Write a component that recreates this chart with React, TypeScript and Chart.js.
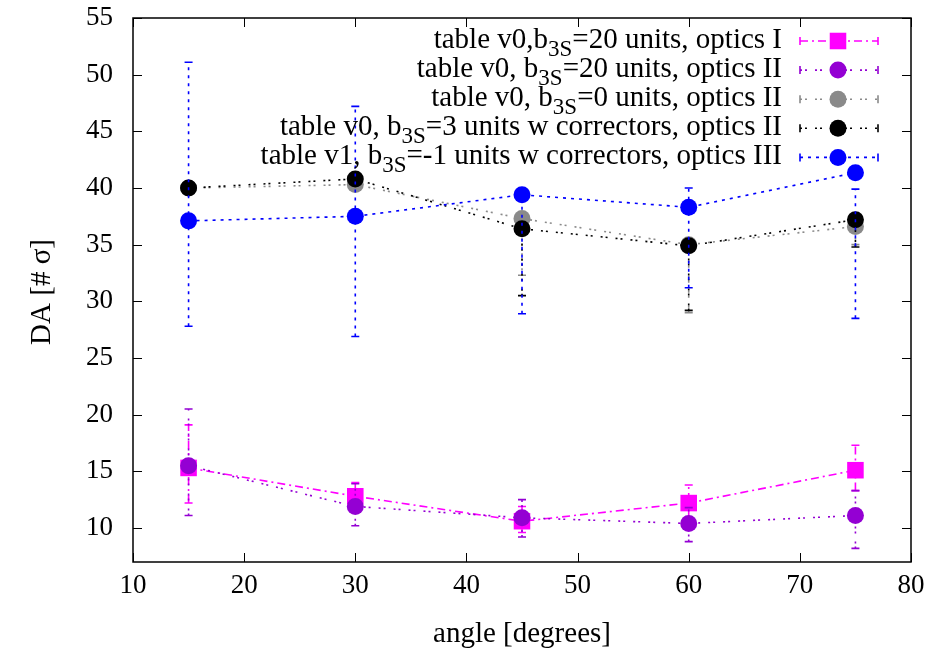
import React, { useEffect, useRef } from "react";
import { Chart, registerables } from "chart.js";

Chart.register(...registerables);

const ANGLES = [15, 30, 45, 60, 75];
const X_TICKS = [10, 20, 30, 40, 50, 60, 70, 80];
const Y_TICKS = [10, 15, 20, 25, 30, 35, 40, 45, 50, 55];

// table v0, b3S=20, optics I
const OPT1_VAL = [15.3, 12.8, 10.6, 12.2, 15.1];
const OPT1_LOW = [12.2, 11.8, 9.6, 10.8, 13.3];
const OPT1_HIGH = [19.1, 14.0, 11.9, 13.8, 17.3];

// table v0, b3S=20, optics II
const B20_VAL = [15.5, 11.9, 10.9, 10.4, 11.1];
const B20_LOW = [11.1, 10.2, 9.2, 8.8, 8.2];
const B20_HIGH = [20.5, 13.9, 12.5, 11.8, 13.3];

// table v0, b3S=0, optics II
const B0_VAL = [40.0, 40.3, 37.3, 35.0, 36.6];
const B0_LOW = [39.7, 40.0, 32.3, 29.0, 35.0];
const B0_HIGH = [40.3, 40.6, 37.6, 35.3, 36.9];

// table v0, b3S=3 w correctors, optics II
const B3_VAL = [40.0, 40.8, 36.4, 34.9, 37.2];
const B3_LOW = [39.7, 40.5, 30.5, 29.2, 34.8];
const B3_HIGH = [40.3, 41.1, 36.7, 35.2, 37.5];

// table v1, b3S=-1 w correctors, optics III
const V1_VAL = [37.1, 37.5, 39.4, 38.3, 41.35];
const V1_LOW = [27.8, 26.9, 28.9, 31.2, 28.5];
const V1_HIGH = [51.1, 47.2, 39.7, 40.0, 39.9];

const LEGEND_PARTS: [string, string, string][] = [
  ["table v0,b", "3S", "=20 units, optics I"],
  ["table v0, b", "3S", "=20 units, optics II"],
  ["table v0, b", "3S", "=0 units, optics II"],
  ["table v0, b", "3S", "=3 units w correctors, optics II"],
  ["table v1, b", "3S", "=-1 units w correctors, optics III"],
];

const VALUES = [OPT1_VAL, B20_VAL, B0_VAL, B3_VAL, V1_VAL];
const LOWS = [OPT1_LOW, B20_LOW, B0_LOW, B3_LOW, V1_LOW];
const HIGHS = [OPT1_HIGH, B20_HIGH, B0_HIGH, B3_HIGH, V1_HIGH];

const COLORS = ["#ff00ff", "#9400d3", "#8a8a8a", "#000000", "#0000ff"];
const DASHES = [[8, 4, 2, 4], [2, 3, 2, 8], [2, 3, 2, 8], [2, 3, 2, 8], [3, 5]];
const STYLES = ["rect", "circle", "circle", "circle", "circle"];
const RADII = [11.7, 8.5, 8.5, 8.5, 8.5];

const FONT = "'Liberation Serif', 'DejaVu Serif', serif";

const errPlugin = {
  id: "errbars",
  beforeDatasetDraw(chart: any, args: any) {
    const i = args.index;
    const ctx = chart.ctx;
    const xs = chart.scales.x;
    const ys = chart.scales.y;
    ctx.save();
    ctx.strokeStyle = COLORS[i];
    ctx.lineWidth = 1.6;
    for (let k = 0; k < ANGLES.length; k++) {
      const px = xs.getPixelForValue(ANGLES[k]);
      const pl = ys.getPixelForValue(LOWS[i][k]);
      const ph = ys.getPixelForValue(HIGHS[i][k]);
      ctx.setLineDash(DASHES[i]);
      ctx.beginPath();
      ctx.moveTo(px, pl);
      ctx.lineTo(px, ph);
      ctx.stroke();
      ctx.setLineDash([]);
      ctx.beginPath();
      ctx.moveTo(px - 4, pl);
      ctx.lineTo(px + 4, pl);
      ctx.moveTo(px - 4, ph);
      ctx.lineTo(px + 4, ph);
      ctx.stroke();
    }
    ctx.restore();
  },
};

const framePlugin = {
  id: "frame",
  beforeDatasetsDraw(chart: any) {
    const ctx = chart.ctx;
    const a = chart.chartArea;
    const xs = chart.scales.x;
    const ys = chart.scales.y;
    ctx.save();
    ctx.strokeStyle = "#000";
    ctx.lineWidth = 1.5;
    ctx.strokeRect(a.left, a.top, a.right - a.left, a.bottom - a.top);
    ctx.lineWidth = 1;
    const L = 9;
    ctx.beginPath();
    for (const v of X_TICKS) {
      const p = Math.round(xs.getPixelForValue(v)) + 0.5;
      ctx.moveTo(p, a.bottom);
      ctx.lineTo(p, a.bottom - L);
      ctx.moveTo(p, a.top);
      ctx.lineTo(p, a.top + L);
    }
    for (const v of Y_TICKS) {
      const p = Math.round(ys.getPixelForValue(v)) + 0.5;
      ctx.moveTo(a.left, p);
      ctx.lineTo(a.left + L, p);
      ctx.moveTo(a.right, p);
      ctx.lineTo(a.right - L, p);
    }
    ctx.stroke();

    // axis titles
    ctx.fillStyle = "#000";
    ctx.font = `29px ${FONT}`;
    ctx.textAlign = "center";
    ctx.textBaseline = "alphabetic";
    ctx.fillText("angle [degrees]", (a.left + a.right) / 2, 642);
    ctx.translate(50, 292);
    ctx.rotate(-Math.PI / 2);
    ctx.fillText("DA [# σ]", 0, 0);
    ctx.restore();
  },
};

const legendPlugin = {
  id: "richLegend",
  afterDatasetsDraw(chart: any) {
    const ctx = chart.ctx;
    ctx.save();
    const mainFont = `29px ${FONT}`;
    const subFont = `23px ${FONT}`;
    const right = 782;
    const x0 = 800;
    const x1 = 878;
    const mx = 838;
    for (let i = 0; i < LEGEND_PARTS.length; i++) {
      const base = 48 + i * 29.1;
      const [a, s, b] = LEGEND_PARTS[i];
      ctx.font = mainFont;
      const wa = ctx.measureText(a).width;
      const wb = ctx.measureText(b).width;
      ctx.font = subFont;
      const ws = ctx.measureText(s).width;
      let x = right - (wa + ws + wb);
      ctx.fillStyle = "#000";
      ctx.textAlign = "left";
      ctx.textBaseline = "alphabetic";
      ctx.font = mainFont;
      ctx.fillText(a, x, base);
      x += wa;
      ctx.font = subFont;
      ctx.fillText(s, x, base + 8);
      x += ws;
      ctx.font = mainFont;
      ctx.fillText(b, x, base);

      const cy = base - 7;
      ctx.strokeStyle = COLORS[i];
      ctx.lineWidth = 1.6;
      ctx.setLineDash(DASHES[i]);
      ctx.beginPath();
      ctx.moveTo(x0, cy);
      ctx.lineTo(x1, cy);
      ctx.stroke();
      ctx.setLineDash([]);
      ctx.beginPath();
      ctx.moveTo(x0, cy - 4);
      ctx.lineTo(x0, cy + 4);
      ctx.moveTo(x1, cy - 4);
      ctx.lineTo(x1, cy + 4);
      ctx.stroke();
      ctx.fillStyle = COLORS[i];
      ctx.beginPath();
      if (STYLES[i] === "rect") {
        const h = RADII[i] * Math.SQRT1_2;
        ctx.rect(mx - h, cy - h, 2 * h, 2 * h);
      } else {
        ctx.arc(mx, cy, RADII[i], 0, Math.PI * 2);
      }
      ctx.fill();
    }
    ctx.restore();
  },
};

export default function App() {
  const ref = useRef<HTMLCanvasElement>(null);
  useEffect(() => {
    if (!ref.current) return;
    const datasets = VALUES.map((vals, i) => ({
      label: LEGEND_PARTS[i].join(""),
      data: ANGLES.map((x, k) => ({ x, y: vals[k] })),
      borderColor: COLORS[i],
      backgroundColor: COLORS[i],
      borderWidth: 1.6,
      borderDash: DASHES[i],
      pointStyle: STYLES[i],
      pointRadius: RADII[i],
      pointBorderWidth: 0,
      pointBackgroundColor: COLORS[i],
      pointBorderColor: COLORS[i],
      showLine: true,
      fill: false,
      tension: 0,
      order: 5 - i,
    }));
    const chart = new Chart(ref.current, {
      type: "scatter",
      data: { datasets } as any,
      options: {
        responsive: false,
        animation: false,
        maintainAspectRatio: false,
        layout: { padding: { top: 18, right: 35, left: 0, bottom: 0 } },
        plugins: { legend: { display: false }, tooltip: { enabled: false } },
        scales: {
          x: {
            type: "linear",
            min: 10,
            max: 80,
            afterBuildTicks: (s: any) => {
              s.ticks = X_TICKS.map((v) => ({ value: v }));
            },
            afterFit: (s: any) => {
              s.height = 651 - 562;
            },
            grid: { display: false, drawTicks: true, tickLength: 8, tickColor: "rgba(0,0,0,0)" },
            border: { display: false },
            ticks: {
              color: "#000",
              font: { family: FONT, size: 27 },
              padding: 0,
              maxRotation: 0,
              autoSkip: false,
            },
          },
          y: {
            type: "linear",
            min: 7,
            max: 55,
            afterBuildTicks: (s: any) => {
              s.ticks = Y_TICKS.map((v) => ({ value: v }));
            },
            afterFit: (s: any) => {
              s.width = 133;
            },
            grid: { display: false, drawTicks: true, tickLength: 20, tickColor: "rgba(0,0,0,0)" },
            border: { display: false },
            ticks: {
              color: "#000",
              font: { family: FONT, size: 27 },
              padding: 0,
              autoSkip: false,
            },
          },
        },
      },
      plugins: [framePlugin, errPlugin, legendPlugin],
    } as any);
    return () => chart.destroy();
  }, []);
  return (
    <div style={{ position: "absolute", left: 0, top: 0, width: 946, height: 651, background: "#fff" }}>
      <canvas ref={ref} width={946} height={651} />
    </div>
  );
}
